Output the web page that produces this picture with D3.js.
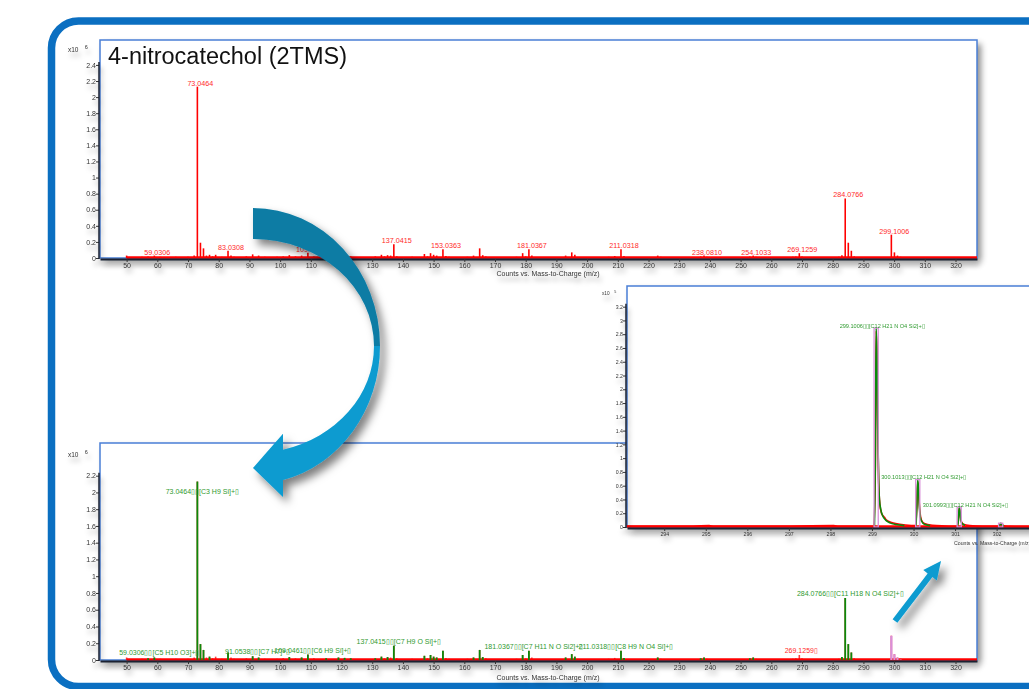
<!DOCTYPE html>
<html><head><meta charset="utf-8">
<script src="https://cdn.jsdelivr.net/npm/d3@7"></script>
<style>
html,body{margin:0;padding:0;background:#fff;}
svg{display:block;}
text{font-family:"Liberation Sans",Arial,sans-serif;}
</style></head><body>
<svg id="fig" width="1029" height="689"></svg>
<script>
// Measured centroid spectrum: [m/z, counts x10^6]
const measuredPeaks = [
  [50.0,0.03],[53.0,0.01],[55.0,0.015],[57.0,0.02],[59.0306,0.03],[61.0,0.015],[63.0,0.01],[66.0,0.015],
  [67.0,0.01],[70.0,0.015],[72.0,0.03],[73.0464,2.13],[74.05,0.19],[75.04,0.12],[76.0,0.03],[77.0,0.04],
  [78.0,0.02],[79.0,0.04],[81.0,0.015],[83.0308,0.09],[84.0,0.03],[85.0,0.015],[87.0,0.01],[89.0,0.02],
  [91.0538,0.045],[93.0,0.03],[95.0,0.015],[97.0,0.01],[99.0,0.015],[101.0,0.02],[103.0,0.035],[105.0,0.02],
  [107.0,0.03],[109.0461,0.065],[111.0,0.02],[115.0,0.02],[117.0,0.01],[119.0,0.03],[121.0,0.025],[123.0,0.02],
  [131.0,0.02],[133.0,0.04],[134.0,0.02],[135.0,0.035],[136.0,0.03],[137.0415,0.17],[138.0,0.02],[143.0,0.015],
  [147.0,0.05],[148.0,0.02],[149.0,0.06],[150.0,0.04],[151.0,0.03],[153.0363,0.11],[154.0,0.025],[155.0,0.015],
  [161.0,0.015],[163.0,0.03],[165.0,0.12],[166.0,0.035],[167.0,0.02],[177.0,0.015],[179.0,0.06],[180.0,0.02],
  [181.0367,0.11],[182.0,0.03],[193.0,0.03],[195.0,0.07],[196.0,0.04],[207.0,0.015],[209.0,0.025],[211.0318,0.11],
  [212.0,0.025],[223.0,0.03],[224.0,0.015],[225.0,0.01],[237.0,0.02],[238.0810,0.03],[239.0,0.015],[253.0,0.02],
  [254.1033,0.03],[255.0,0.015],[267.0,0.015],[268.0,0.02],[269.1259,0.06],[270.0,0.02],[282.0,0.015],[283.0,0.035],
  [284.0766,0.74],[285.08,0.19],[286.07,0.09],[287.0,0.02],[298.0,0.01],[299.1006,0.29],[300.1013,0.07],[301.0993,0.03],
  [302.1,0.015]
];
// Peaks annotated with m/z in the measured spectrum
const measuredLabelMz = [59.0306,73.0464,83.0308,109.0461,137.0415,153.0363,181.0367,211.0318,238.0810,254.1033,269.1259,284.0766,299.1006];

// Peaks explained by a fragment formula
const matchedMz = [57.0,59.0306,73.0464,74.05,75.04,77.0,83.0308,91.0538,93.0,103.0,107.0,109.0461,115.0,119.0,121.0,123.0,
  131.0,133.0,135.0,137.0415,147.0,149.0,150.0,151.0,153.0363,163.0,165.0,166.0,179.0,181.0367,193.0,195.0,196.0,
  211.0318,212.0,223.0,237.0,238.0810,253.0,254.1033,283.0,284.0766,285.08,286.07];
const matchedLabelMz = [59.0306,73.0464,91.0538,109.0461,137.0415,181.0367,211.0318,284.0766];
const matchedFormula = ["C5 H10 O3","C3 H9 Si","C7 H7","C6 H9 Si","C7 H9 O Si","C7 H11 N O Si2","C8 H9 N O4 Si","C11 H18 N O4 Si2"];
const unmatchedLabelMz = [269.1259];

// Molecular ion isotope cluster, counts x10^5
const isoMz = [299.1006,300.1013,301.0993,302.0968];
const isoAbund = [2.89,0.69,0.29,0.055];
const isoFormula = "C12 H21 N O4 Si2";

// Profile traces around the molecular ion: [m/z, counts x10^5]; zero marks a gap in the matched trace
const profileMatched = [
  [299.05,0],[299.06,0.02],[299.08,0.9],[299.10,2.89],[299.12,2.5],[299.14,1.4],[299.16,0.7],[299.18,0.4],
  [299.21,0.26],[299.26,0.16],[299.33,0.1],[299.43,0.06],[299.58,0.035],[299.78,0.02],[299.9,0],
  [300.06,0.02],[300.08,0.3],[300.10,0.69],[300.12,0.55],[300.14,0.3],[300.16,0.15],[300.20,0.08],[300.26,0.04],
  [300.40,0.02],[300.5,0],[301.06,0.02],[301.08,0.1],[301.10,0.29],[301.12,0.22],[301.14,0.1],[301.17,0.05],
  [301.24,0.025],[301.35,0],[302.06,0.015],[302.08,0.03],[302.10,0.055],[302.13,0.03],[302.18,0.015],[302.3,0]
];
const profileMeasured = [
  [293.10,0.01],[294.5,0.01],[295.08,0.02],[295.2,0.01],[296.5,0.01],[298.08,0.02],[298.2,0.01],[299.05,0.01],
  [299.08,0.85],[299.10,2.85],[299.12,2.45],[299.14,1.35],[299.16,0.65],[299.19,0.33],[299.23,0.2],[299.27,0.16],
  [299.30,0.14],[299.35,0.1],[299.45,0.07],[299.6,0.045],[299.8,0.03],[300.05,0.02],[300.08,0.3],[300.10,0.66],
  [300.12,0.52],[300.15,0.25],[300.19,0.1],[300.26,0.05],[300.45,0.025],[300.75,0.015],[301.05,0.01],[301.08,0.1],
  [301.10,0.27],[301.12,0.2],[301.15,0.08],[301.2,0.04],[301.35,0.02],[301.65,0.01],[302.05,0.01],[302.10,0.05],
  [302.14,0.03],[302.25,0.01],[302.6,0.005],[303.16,0.005]
];

// Axis ticks
const massTicks = [50,60,70,80,90,100,110,120,130,140,150,160,170,180,190,200,210,220,230,240,250,260,270,280,290,300,310,320];
const topYTicks = [0,0.2,0.4,0.6,0.8,1,1.2,1.4,1.6,1.8,2,2.2,2.4];
const botYTicks = [0,0.2,0.4,0.6,0.8,1,1.2,1.4,1.6,1.8,2,2.2];
const insetXTicks = [294,295,296,297,298,299,300,301,302];
const insetYTicks = [0,0.2,0.4,0.6,0.8,1,1.2,1.4,1.6,1.8,2,2.2,2.4,2.6,2.8,3,3.2];
const scanStart = 50;

const BOX = "\u25AF";
const RED = "#ff0000", GREEN = "#0a8a0a", PLUM = "#d98fd9";
const intensityOf = new Map(measuredPeaks);

const svg = d3.select("#fig");
const defs = svg.append("defs");
function shadow(id, dx, dy, sd, op) {
  const f = defs.append("filter").attr("id", id).attr("x", "-20%").attr("y", "-20%").attr("width", "140%").attr("height", "150%");
  f.append("feDropShadow").attr("dx", dx).attr("dy", dy).attr("stdDeviation", sd)
    .attr("flood-color", "#000").attr("flood-opacity", op);
}
shadow("panelShadow", 4, 4, 3, 0.45);
shadow("textShadow", 2, 5, 2.5, 0.35);
shadow("arrowShadow", 5, 6, 4, 0.5);

svg.append("rect").attr("width", 1029).attr("height", 689).attr("fill", "#fff");

// outer rounded frame
svg.append("rect").attr("x", 51.5).attr("y", 21).attr("width", 1030).attr("height", 665.5)
  .attr("rx", 27).attr("fill", "none").attr("stroke", "#0b6fc1").attr("stroke-width", 7.5);

const fmt = d3.format("~g");

function axes(g, x, y, box, opt) {
  const {left, right, top, bottom} = box;
  const ax = g.append("g").attr("filter", "url(#textShadow)");
  const xa = ax.append("g").attr("transform", `translate(0,${bottom + 1})`)
    .call(d3.axisBottom(x).tickValues(opt.xTicks).tickSize(3).tickSizeOuter(0).tickPadding(1));
  xa.select(".domain").attr("stroke", "#1c2230").attr("stroke-width", 2);
  xa.selectAll(".tick line").attr("stroke", "#333");
  xa.selectAll("text").attr("font-size", opt.fs).attr("fill", "#333").attr("font-family", null);
  const ya = ax.append("g").attr("transform", `translate(${left - 1},0)`)
    .call(d3.axisLeft(y).tickValues(opt.yTicks).tickSize(3).tickSizeOuter(0).tickPadding(0).tickFormat(fmt));
  ya.select(".domain").remove();
  ya.selectAll(".tick line").attr("stroke", "#333");
  ya.selectAll("text").attr("font-size", opt.fs).attr("fill", "#333").attr("font-family", null);
  ya.append("line").attr("x1", 0).attr("x2", 0)
    .attr("y1", y(0) + 1).attr("y2", y(d3.max(opt.yTicks)) - 3).attr("stroke", "#1c2230").attr("stroke-width", 1.5);
  // unit label
  const u = ax.append("text").attr("x", opt.unitX).attr("y", opt.unitY).attr("font-size", opt.fs - 0.5).attr("fill", "#333");
  u.append("tspan").text("x10");
  u.append("tspan").attr("dx", opt.fs * 0.9).attr("dy", -opt.fs * 0.45).attr("font-size", opt.fs - 1.5).text(opt.exp);
  // axis title
  ax.append("text").attr("x", opt.titleX).attr("y", opt.titleY).attr("text-anchor", opt.titleAnchor)
    .attr("font-size", opt.fs).attr("fill", "#333").text("Counts vs. Mass-to-Charge (m/z)");
}

function panelBox(g, box) {
  g.append("rect").attr("x", box.left).attr("y", box.top).attr("width", box.right - box.left)
    .attr("height", box.bottom - box.top).attr("fill", "#fff").attr("filter", "url(#panelShadow)");
}
function panelBorder(g, box) {
  g.append("rect").attr("x", box.left).attr("y", box.top).attr("width", box.right - box.left)
    .attr("height", box.bottom - box.top).attr("fill", "none").attr("stroke", "#4a7fd6").attr("stroke-width", 1.5);
}
function sticks(g, x, y, data, color, w, op) {
  g.append("g").selectAll("line").data(data).join("line")
    .attr("x1", d => x(d[0])).attr("x2", d => x(d[0]))
    .attr("y1", y(0)).attr("y2", d => y(d[1]))
    .attr("stroke", color).attr("stroke-width", w).attr("opacity", op);
}
function baseline(g, x, y, color, from) {
  g.append("line").attr("x1", x(from)).attr("x2", x.range()[1]).attr("y1", y(0) - 0.5).attr("y2", y(0) - 0.5)
    .attr("stroke", color).attr("stroke-width", 2.5);
}

// ---------- measured spectrum ----------
const topBox = {left: 100, right: 977, top: 40, bottom: 258};
const xTop = d3.scaleLinear().domain([41.33, 327.0]).range([topBox.left, topBox.right]);
const yTop = d3.scaleLinear().domain([0, 2.71]).range([topBox.bottom, topBox.top]);
const gTop = svg.append("g");
panelBox(gTop, topBox);
panelBorder(gTop, topBox);
baseline(gTop, xTop, yTop, RED, scanStart);
sticks(gTop, xTop, yTop, measuredPeaks, RED, 1.6, 1);
gTop.append("g").selectAll("text").data(measuredLabelMz).join("text")
  .attr("x", m => xTop(m) + 3).attr("y", m => yTop(intensityOf.get(m)) - 1)
  .attr("text-anchor", "middle").attr("font-size", 7.2).attr("fill", "#ff2a2a")
  .text(m => m.toFixed(4));
axes(gTop, xTop, yTop, topBox, {xTicks: massTicks, yTicks: topYTicks, fs: 7, unitX: 68, unitY: 52, exp: "6",
  titleX: 548, titleY: 276, titleAnchor: "middle"});
gTop.append("text").attr("x", 108).attr("y", 64).attr("font-size", 23.5).attr("fill", "#111")
  .text("4-nitrocatechol (2TMS)");

// ---------- annotated spectrum ----------
const botBox = {left: 100, right: 977, top: 443, bottom: 660};
const xBot = d3.scaleLinear().domain([41.33, 327.0]).range([botBox.left, botBox.right]);
const yBot = d3.scaleLinear().domain([0, 2.59]).range([botBox.bottom, botBox.top]);
const gBot = svg.append("g");
panelBox(gBot, botBox);
panelBorder(gBot, botBox);
baseline(gBot, xBot, yBot, RED, scanStart);
sticks(gBot, xBot, yBot, measuredPeaks, RED, 1.6, 0.75);
sticks(gBot, xBot, yBot, matchedMz.map(m => [m, intensityOf.get(m)]), GREEN, 1.8, 1);
sticks(gBot, xBot, yBot, isoMz.map((m, i) => [m, isoAbund[i] / 10]), PLUM, 2.2, 1);
gBot.append("g").selectAll("text").data(matchedLabelMz).join("text")
  .attr("x", m => xBot(m) + 5)
  .attr("y", m => Math.max(yBot(intensityOf.get(m)) - 2, botBox.top + 51))
  .attr("text-anchor", "middle").attr("font-size", 7).attr("fill", "#2f9a2f")
  .text((m, i) => `${m.toFixed(4)}${BOX}${BOX}[${matchedFormula[i]}]+${BOX}`);
gBot.append("g").selectAll("text").data(unmatchedLabelMz).join("text")
  .attr("x", m => xBot(m) + 2).attr("y", m => yBot(intensityOf.get(m)) - 2)
  .attr("text-anchor", "middle").attr("font-size", 7).attr("fill", "#ff2a2a")
  .text(m => `${m.toFixed(4)}${BOX}`);
axes(gBot, xBot, yBot, botBox, {xTicks: massTicks, yTicks: botYTicks, fs: 7, unitX: 68, unitY: 457, exp: "6",
  titleX: 548, titleY: 680, titleAnchor: "middle"});

// ---------- zoom on the molecular ion ----------
const inBox = {left: 627, right: 1045, top: 286, bottom: 527};
const xIn = d3.scaleLinear().domain([293.104, 303.164]).range([inBox.left, inBox.right]);
const yIn = d3.scaleLinear().domain([0, 3.5]).range([inBox.bottom, inBox.top]);
const gIn = svg.append("g");
panelBox(gIn, inBox);
panelBorder(gIn, inBox);
baseline(gIn, xIn, yIn, RED, xIn.domain()[0]);
const prof = d3.line().defined(d => d[1] > 0).x(d => xIn(d[0])).y(d => yIn(d[1])).curve(d3.curveMonotoneX);
gIn.append("path").datum(profileMeasured).attr("d", prof).attr("fill", "none").attr("stroke", RED).attr("stroke-width", 1.6);
gIn.append("path").datum(profileMatched).attr("d", prof).attr("fill", "none").attr("stroke", GREEN).attr("stroke-width", 1.6);
gIn.append("g").selectAll("rect").data(isoMz).join("rect")
  .attr("x", m => xIn(m - 0.05)).attr("width", m => xIn(m + 0.05) - xIn(m - 0.05))
  .attr("y", (m, i) => yIn(isoAbund[i])).attr("height", (m, i) => yIn(0) - yIn(isoAbund[i]))
  .attr("fill", "none").attr("stroke", PLUM).attr("stroke-width", 1.3);
gIn.append("g").selectAll("text").data(isoMz.slice(0, 3)).join("text")
  .attr("x", m => xIn(m) + 6).attr("y", (m, i) => yIn(isoAbund[i]) - 0.5)
  .attr("text-anchor", "middle").attr("font-size", 5.6).attr("fill", "#2f9a2f")
  .text(m => `${m.toFixed(4)}${BOX}${BOX}[${isoFormula}]+${BOX}`);
axes(gIn, xIn, yIn, inBox, {xTicks: insetXTicks, yTicks: insetYTicks, fs: 5.2, unitX: 602, unitY: 295, exp: "5",
  titleX: 954, titleY: 545, titleAnchor: "start"});

// ---------- arrows ----------
const ga = svg.append("g").attr("filter", "url(#arrowShadow)");
const cx = 253, cy = 346;
const oR = [127, 138], iR = [121, 107];
const endX = 283;
const yOut = cy + oR[1] * Math.sqrt(1 - ((endX - cx) / oR[0]) ** 2);
const yInn = cy + iR[1] * Math.sqrt(1 - ((endX - cx) / iR[0]) ** 2);
ga.append("path").attr("fill", "#0a7ba4").attr("d",
  `M${cx},${cy - oR[1]} A${oR[0]},${oR[1]} 0 0 1 ${cx + oR[0]},${cy} L${cx + iR[0]},${cy} A${iR[0]},${iR[1]} 0 0 0 ${cx},${cy - iR[1]} Z`);
ga.append("path").attr("fill", "#0a9bd0").attr("d",
  `M${cx + oR[0]},${cy} A${oR[0]},${oR[1]} 0 0 1 ${endX},${yOut} L${endX},${yOut + 17} L${cx},${(yOut + yInn) / 2 + 3} L${endX},${yInn - 16} L${endX},${yInn} A${iR[0]},${iR[1]} 0 0 0 ${cx + iR[0]},${cy} Z`);

// small pointer toward the zoom panel
const tail = [895, 621], tip = [941, 561];
const dx = tip[0] - tail[0], dy = tip[1] - tail[1], len = Math.hypot(dx, dy);
const ux = dx / len, uy = dy / len, nx = -uy, ny = ux;
const hb = [tip[0] - ux * 18, tip[1] - uy * 18];
const sw = 3, hw = 8.5;
ga.append("path").attr("fill", "#0a9bd0").attr("d",
  `M${tail[0] + nx * sw},${tail[1] + ny * sw} L${hb[0] + nx * sw},${hb[1] + ny * sw} L${hb[0] + nx * hw},${hb[1] + ny * hw} L${tip[0]},${tip[1]} L${hb[0] - nx * hw},${hb[1] - ny * hw} L${hb[0] - nx * sw},${hb[1] - ny * sw} L${tail[0] - nx * sw},${tail[1] - ny * sw} Z`);
</script>
</body></html>
